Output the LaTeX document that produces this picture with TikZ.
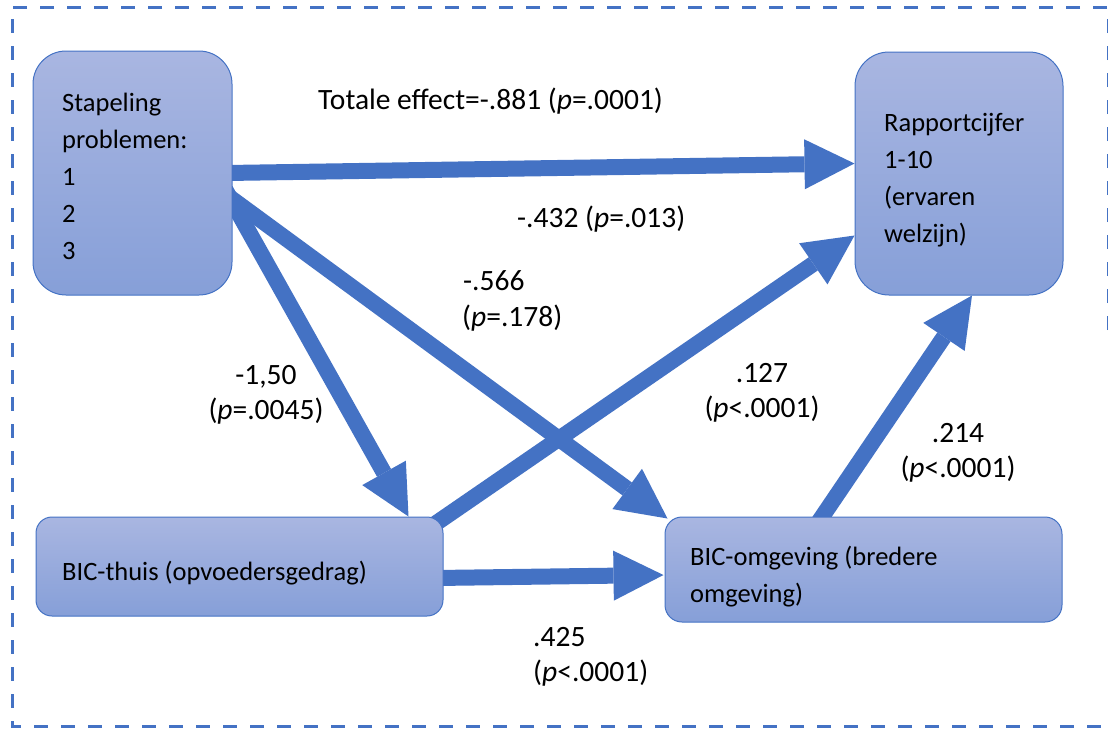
\documentclass[tikz,border=0pt]{standalone}
\usepackage{fontspec}
\setmainfont{Carlito}
\usetikzlibrary{arrows.meta,backgrounds}
\definecolor{arrowblue}{HTML}{4472C4}
\definecolor{boxtop}{HTML}{A9B6E1}
\definecolor{boxbot}{HTML}{869FD8}
\tikzset{
  box/.style={draw=arrowblue, line width=1pt, top color=boxtop, bottom color=boxbot, inner sep=0pt},
  boxtext/.style={font=\fontsize{26.5}{31}\selectfont, inner sep=0pt, anchor=base west},
  lbl/.style={font=\fontsize{29.5}{35}\selectfont, inner sep=0pt},
  conn/.style={draw=arrowblue, line width=16pt, -{Triangle[length=50pt,width=50pt,line width=0pt]}},
  frame/.style={draw=arrowblue, line width=3pt, dash pattern=on 14pt off 13pt}
}
\begin{document}
\begin{tikzpicture}[x=1pt,y=-1pt]
\useasboundingbox (0,0) rectangle (1108,729);
% boxes
\node[box, minimum width=199pt, minimum height=244pt, rounded corners=33pt] (A) at (132.5,173) {};
\node[box, minimum width=208pt, minimum height=243pt, rounded corners=34pt] (R) at (959,173.5) {};
\node[box, minimum width=407pt, minimum height=99pt, rounded corners=16pt] (T) at (239.5,566.5) {};
\node[box, minimum width=397pt, minimum height=105pt, rounded corners=17pt] (O) at (863.5,569.5) {};
% box texts
\node[boxtext] (a1) at (62,111) {Stapeling};
\node[boxtext] (a2) at (62,148) {problemen:};
\node[boxtext] (a3) at (62,185) {1};
\node[boxtext] (a4) at (62,222) {2};
\node[boxtext] (a5) at (62,259) {3};
\node[boxtext] (r1) at (884,131) {Rapportcijfer};
\node[boxtext] (r2) at (884,168) {1-10};
\node[boxtext] (r3) at (884,205) {(ervaren};
\node[boxtext] (r4) at (884,242) {welzijn)};
\node[boxtext] (t1) at (62,580) {BIC-thuis (opvoedersgedrag)};
\node[boxtext] (o1) at (690,565) {BIC-omgeving (bredere};
\node[boxtext] (o2) at (690,602) {omgeving)};
% labels
\node[lbl, anchor=base west] (l1) at (318,109) {Totale effect=-.881 (\textit{p}=.0001)};
\node[lbl, anchor=base west] (l2) at (517,227) {-.432 (\textit{p}=.013)};
\node[lbl, anchor=base west] (l3a) at (463,290) {-.566};
\node[lbl, anchor=base west] (l3b) at (462,326) {(\textit{p}=.178)};
\node[lbl, anchor=base] (l4a) at (266,384) {-1,50};
\node[lbl, anchor=base] (l4b) at (266,419) {(\textit{p}=.0045)};
\node[lbl, anchor=base] (l5a) at (762,382) {.127};
\node[lbl, anchor=base] (l5b) at (762,417) {(\textit{p}{<}.0001)};
\node[lbl, anchor=base] (l6a) at (958,442) {.214};
\node[lbl, anchor=base] (l6b) at (958,477) {(\textit{p}{<}.0001)};
\node[lbl, anchor=base west] (l7a) at (533,646) {.425};
\node[lbl, anchor=base west] (l7b) at (533,681) {(\textit{p}{<}.0001)};
% connectors
\begin{pgfonlayer}{background}
\draw[conn] ([xshift=-6pt]A.east) -- ([yshift=10pt]R.west);
\draw[conn] ([xshift=-10pt,yshift=-19pt]A.east) -- ([xshift=3pt,yshift=-2pt]O.north west);
\draw[conn] ([xshift=-7pt,yshift=-17pt]A.east) -- ([xshift=-35pt]T.north east);
\draw[conn] ([xshift=-18pt,yshift=-14pt]T.north east) -- ([yshift=-62pt]R.west);
\draw[conn] ([xshift=-48pt,yshift=-10pt]O.north) -- ([xshift=13pt]R.south);
\draw[conn] ([xshift=-8pt,yshift=-11.5pt]T.east) -- ([xshift=-1pt,yshift=-5.5pt]O.west);
\end{pgfonlayer}
% frame
\draw[frame] (1108,330) -- (1108,7) -- (12,7) -- (12,726) -- (1108,726);
\end{tikzpicture}
\end{document}
